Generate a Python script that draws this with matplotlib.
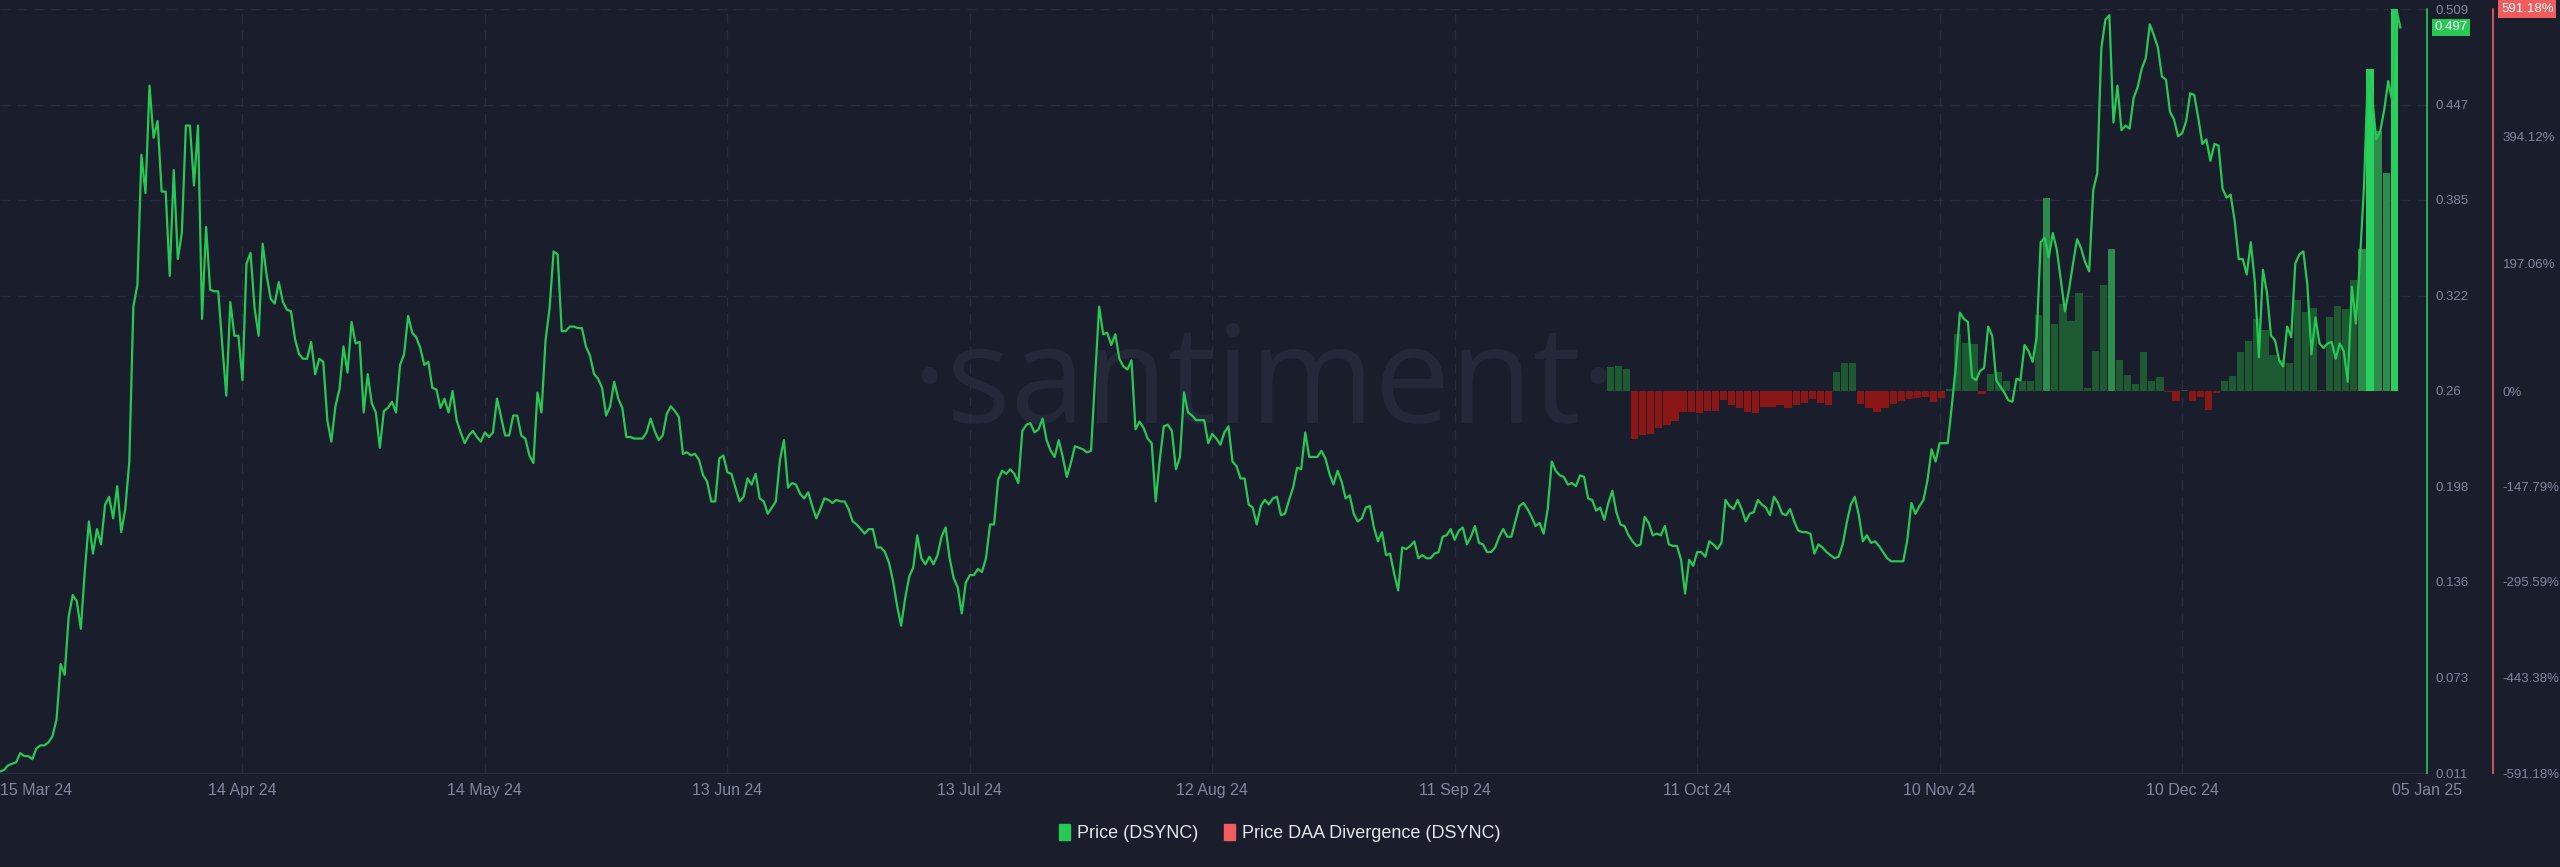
import numpy as np
import pandas as pd
import matplotlib
matplotlib.use('Agg')
import matplotlib.pyplot as plt
import matplotlib.patches as mpatches
from matplotlib.transforms import blended_transform_factory, ScaledTranslation

# 价格 (DSYNC)，12 小时一个点，从 2024-03-15 开始
price_start = '2024-03-15'
price = [
    0.012, 0.013, 0.016, 0.017, 0.018, 0.024, 0.022, 0.022, 0.020, 0.027,
    0.029, 0.029, 0.031, 0.035, 0.046, 0.082, 0.075, 0.113, 0.127, 0.123,
    0.105, 0.143, 0.175, 0.154, 0.170, 0.160, 0.186, 0.191, 0.177, 0.198,
    0.168, 0.183, 0.214, 0.315, 0.329, 0.414, 0.389, 0.459, 0.425, 0.436,
    0.390, 0.390, 0.335, 0.404, 0.346, 0.363, 0.433, 0.433, 0.394, 0.433,
    0.307, 0.367, 0.326, 0.325, 0.325, 0.290, 0.257, 0.318, 0.296, 0.296,
    0.267, 0.343, 0.350, 0.314, 0.296, 0.356, 0.335, 0.320, 0.317, 0.331,
    0.318, 0.313, 0.312, 0.294, 0.284, 0.281, 0.281, 0.292, 0.271, 0.281,
    0.279, 0.241, 0.227, 0.250, 0.261, 0.289, 0.272, 0.305, 0.291, 0.292,
    0.246, 0.271, 0.252, 0.246, 0.223, 0.247, 0.249, 0.253, 0.246, 0.277,
    0.284, 0.309, 0.298, 0.295, 0.288, 0.277, 0.279, 0.262, 0.261, 0.249,
    0.255, 0.246, 0.260, 0.241, 0.233, 0.226, 0.231, 0.234, 0.230, 0.227,
    0.233, 0.230, 0.233, 0.255, 0.243, 0.231, 0.231, 0.244, 0.244, 0.231,
    0.229, 0.218, 0.213, 0.259, 0.246, 0.293, 0.314, 0.351, 0.349, 0.299,
    0.299, 0.302, 0.302, 0.301, 0.301, 0.289, 0.283, 0.271, 0.268, 0.262,
    0.244, 0.250, 0.266, 0.255, 0.249, 0.230, 0.230, 0.229, 0.229, 0.229,
    0.233, 0.242, 0.234, 0.228, 0.231, 0.245, 0.250, 0.247, 0.243, 0.219,
    0.220, 0.218, 0.219, 0.215, 0.205, 0.201, 0.188, 0.188, 0.216, 0.218,
    0.207, 0.206, 0.197, 0.188, 0.191, 0.203, 0.199, 0.206, 0.190, 0.188,
    0.180, 0.184, 0.188, 0.215, 0.228, 0.197, 0.200, 0.199, 0.193, 0.190,
    0.194, 0.185, 0.177, 0.183, 0.190, 0.189, 0.187, 0.189, 0.188, 0.188,
    0.183, 0.175, 0.173, 0.170, 0.167, 0.170, 0.170, 0.158, 0.158, 0.155,
    0.148, 0.136, 0.120, 0.107, 0.125, 0.139, 0.145, 0.166, 0.151, 0.147,
    0.152, 0.147, 0.153, 0.165, 0.171, 0.151, 0.138, 0.132, 0.115, 0.135,
    0.140, 0.140, 0.144, 0.142, 0.151, 0.173, 0.173, 0.202, 0.208, 0.206,
    0.209, 0.206, 0.200, 0.234, 0.238, 0.239, 0.233, 0.235, 0.242, 0.228,
    0.221, 0.217, 0.228, 0.217, 0.204, 0.213, 0.224, 0.223, 0.222, 0.220,
    0.221, 0.269, 0.315, 0.297, 0.298, 0.290, 0.297, 0.281, 0.276, 0.274,
    0.280, 0.235, 0.240, 0.236, 0.229, 0.226, 0.188, 0.215, 0.237, 0.238,
    0.234, 0.209, 0.217, 0.259, 0.246, 0.244, 0.241, 0.241, 0.241, 0.226,
    0.232, 0.229, 0.225, 0.233, 0.237, 0.214, 0.211, 0.203, 0.203, 0.186,
    0.184, 0.173, 0.185, 0.189, 0.186, 0.190, 0.191, 0.179, 0.180, 0.189,
    0.197, 0.210, 0.209, 0.233, 0.217, 0.217, 0.217, 0.221, 0.216, 0.206,
    0.199, 0.208, 0.201, 0.190, 0.192, 0.180, 0.175, 0.177, 0.184, 0.185,
    0.171, 0.162, 0.168, 0.153, 0.154, 0.141, 0.130, 0.158, 0.157, 0.159,
    0.162, 0.151, 0.153, 0.151, 0.151, 0.154, 0.155, 0.165, 0.166, 0.170,
    0.163, 0.169, 0.171, 0.160, 0.165, 0.172, 0.161, 0.160, 0.155, 0.155,
    0.158, 0.165, 0.170, 0.165, 0.165, 0.175, 0.185, 0.187, 0.183, 0.178,
    0.172, 0.174, 0.167, 0.183, 0.214, 0.208, 0.205, 0.204, 0.199, 0.200,
    0.198, 0.205, 0.204, 0.190, 0.189, 0.182, 0.184, 0.176, 0.187, 0.195,
    0.181, 0.173, 0.172, 0.166, 0.162, 0.159, 0.160, 0.178, 0.174, 0.166,
    0.167, 0.166, 0.172, 0.160, 0.159, 0.159, 0.150, 0.128, 0.150, 0.146,
    0.155, 0.155, 0.152, 0.162, 0.160, 0.157, 0.161, 0.189, 0.185, 0.183,
    0.189, 0.183, 0.175, 0.180, 0.181, 0.189, 0.186, 0.184, 0.179, 0.191,
    0.187, 0.180, 0.179, 0.183, 0.175, 0.169, 0.168, 0.168, 0.167, 0.154,
    0.160, 0.158, 0.155, 0.153, 0.151, 0.152, 0.160, 0.174, 0.186, 0.191,
    0.179, 0.162, 0.166, 0.161, 0.162, 0.159, 0.155, 0.151, 0.149, 0.149,
    0.149, 0.149, 0.163, 0.187, 0.180, 0.185, 0.189, 0.202, 0.222, 0.214,
    0.226, 0.226, 0.226, 0.250, 0.276, 0.311, 0.307, 0.305, 0.269, 0.267,
    0.273, 0.275, 0.302, 0.296, 0.267, 0.263, 0.259, 0.254, 0.253, 0.268,
    0.267, 0.290, 0.286, 0.279, 0.295, 0.357, 0.360, 0.347, 0.363, 0.352,
    0.332, 0.312, 0.326, 0.343, 0.359, 0.353, 0.344, 0.338, 0.391, 0.402,
    0.483, 0.502, 0.505, 0.435, 0.459, 0.430, 0.433, 0.431, 0.451, 0.458,
    0.470, 0.477, 0.499, 0.492, 0.484, 0.465, 0.463, 0.442, 0.437, 0.426,
    0.428, 0.436, 0.454, 0.453, 0.438, 0.421, 0.424, 0.410, 0.421, 0.420,
    0.392, 0.386, 0.388, 0.371, 0.346, 0.346, 0.336, 0.357, 0.331, 0.282,
    0.339, 0.324, 0.296, 0.293, 0.280, 0.276, 0.302, 0.295, 0.343, 0.349,
    0.351, 0.329, 0.284, 0.308, 0.291, 0.288, 0.291, 0.292, 0.281, 0.291,
    0.286, 0.266, 0.328, 0.304, 0.345, 0.393, 0.469, 0.454, 0.424, 0.429,
    0.443, 0.462, 0.449, 0.509, 0.497,
]

# Price DAA Divergence (%)，每天一个，从 2024-09-30 开始
divergence_start = '2024-09-30'
divergence = [
    37, 38, 34,
    -75, -68, -66, -57, -52, -47, -32, -33, -34, -31, -31, -14, -22,
    -26, -32, -34, -24, -25, -21, -27, -21, -19, -13, -19, -22,
    30, 43, 43,
    -20, -27, -32, -26, -20, -15, -12, -11, -10, -17, -11,
    3,
    88, 74, 73, -4, 26, 29, 16, 1, 16, 16,
    118, 298, 104, 134, 109, 152, 5, 62, 164, 219,
    48, 24, 11, 61, 16, 21, -1, -16, 1, -16,
    -10, -30, -3, 16, 23, 60, 78, 112, 95, 56,
    48, 43, 141, 122, 128, 1, 114, 132, 127, 172,
    219, 498, 402, 337, 591.18,
]

x_tick_dates = ['2024-03-15', '2024-04-14', '2024-05-14', '2024-06-13', '2024-07-13', '2024-08-12',
                '2024-09-11', '2024-10-11', '2024-11-10', '2024-12-10', '2025-01-05']
x_tick_labels = ['15 Mar 24', '14 Apr 24', '14 May 24', '13 Jun 24', '13 Jul 24', '12 Aug 24',
                 '11 Sep 24', '11 Oct 24', '10 Nov 24', '10 Dec 24', '05 Jan 25']

price_min, price_max = 0.011, 0.509
price_tick_labels = ['0.011', '0.073', '0.136', '0.198', '0.26', '0.322', '0.385', '0.447', '0.509']
div_max = 591.18
div_ticks = [-591.18, -443.38, -295.59, -147.79, 0, 197.06, 394.12]
div_tick_labels = ['-591.18%', '-443.38%', '-295.59%', '-147.79%', '0%', '197.06%', '394.12%']
last_price = 0.497

# 颜色
bg = '#1a1d2c'
green = '#26c953'
red = '#f25c5c'
grid_c = '#282c3e'
tick_c = '#80869b'

plt.rcParams['font.family'] = ['Liberation Sans', 'DejaVu Sans']

fig = plt.figure(figsize=(25.6, 8.67), dpi=100, facecolor=bg)
ax_div = fig.add_axes([0, 94 / 867, 2427 / 2560, 764 / 867])
ax_div.set_facecolor(bg)
ax_price = ax_div.twinx()

# 水印
ax_div.text(0.5205, 0.458, '\u00b7santiment\u00b7', transform=ax_div.transAxes, ha='center',
            va='baseline', fontsize=97, color='#242839', family=['Open Sans', 'DejaVu Sans'],
            zorder=0)

# 背离柱
d_dates = pd.date_range(divergence_start, periods=len(divergence), freq='D') + pd.Timedelta(hours=6)
d_vals = np.array(divergence, dtype=float)
bar_colors = []
for v in d_vals:
    if v < 0:
        bar_colors.append('#8a1616')
    elif v > 450:
        bar_colors.append('#2ad05e')
    elif v > 200:
        bar_colors.append('#2b8c4c')
    else:
        bar_colors.append('#1d5a32')
ax_div.bar(d_dates, d_vals, width=0.9, color=bar_colors, zorder=2)
ax_div.set_ylim(-div_max, div_max)

# 价格线
p_dates = pd.date_range(price_start, periods=len(price), freq='12h')
ax_price.plot(p_dates, price, color=green, linewidth=1.6, zorder=3)
ax_price.set_ylim(price_min, price_max)

x0 = pd.Timestamp(price_start)
ax_div.set_xlim(x0, x0 + pd.Timedelta(days=300.3))

# 网格
ax_div.set_yticks(np.linspace(-div_max, div_max, 9), minor=True)
ax_div.yaxis.grid(True, which='minor', color=grid_c, linestyle=(0, (7, 5)), linewidth=1)
ax_div.set_xticks(pd.to_datetime(x_tick_dates))
ax_div.set_xticklabels(x_tick_labels)
ax_div.xaxis.grid(True, color=grid_c, linestyle=(0, (7, 5)), linewidth=1)
gl = ax_div.xaxis.get_gridlines()
gl[0].set_visible(False)
gl[-1].set_visible(False)
ax_div.set_axisbelow(True)

xlabels = ax_div.get_xticklabels()
for i, lbl in enumerate(xlabels):
    lbl.set_family(['Liberation Sans Narrow', 'Liberation Sans', 'DejaVu Sans'])
    if i == 0 or i == len(x_tick_labels) - 1:
        lbl.set_horizontalalignment('left')
xlabels[0].set_transform(xlabels[0].get_transform() + ScaledTranslation(0.04, 0, fig.dpi_scale_trans))
ax_div.tick_params(axis='x', length=0, pad=7, labelsize=11.5, colors=tick_c)
ax_div.tick_params(axis='y', which='minor', length=0)

# 右侧坐标轴
ax_div.yaxis.tick_right()
ax_div.set_yticks(div_ticks)
ax_div.set_yticklabels(div_tick_labels)
ax_div.tick_params(axis='y', which='major', length=0, pad=7, labelsize=9.5, colors=tick_c)
for s in ['left', 'top']:
    ax_div.spines[s].set_visible(False)
ax_div.spines['bottom'].set_color(grid_c)
ax_div.spines['right'].set_position(('outward', 47.5))
ax_div.spines['right'].set_color(red)
ax_div.spines['right'].set_linewidth(1.2)

ax_price.set_yticks(np.linspace(price_min, price_max, 9))
ax_price.set_yticklabels(price_tick_labels)
ax_price.tick_params(axis='y', length=0, pad=6, labelsize=9.5, colors=tick_c)
for s in ['left', 'top', 'bottom']:
    ax_price.spines[s].set_visible(False)
ax_price.spines['right'].set_color(green)
ax_price.spines['right'].set_linewidth(1.2)

# 最新值标签
tr_p = blended_transform_factory(ax_price.transAxes, ax_price.transData)
ax_price.text(1.003, last_price, f'{last_price:.3f}', transform=tr_p, ha='left', va='center',
              fontsize=9.5, color='white', clip_on=False,
              bbox=dict(boxstyle='square,pad=0.2', fc=green, ec='none'))
tr_d = blended_transform_factory(ax_div.transAxes, ax_div.transData)
ax_div.text(1.0305, div_max, f'{div_max:.2f}%', transform=tr_d, ha='left', va='center',
            fontsize=9.5, color='white', clip_on=False,
            bbox=dict(boxstyle='square,pad=0.2', fc=red, ec='none'))

# 图例
handles = [mpatches.Patch(color=green, label='Price (DSYNC)'),
           mpatches.Patch(color=red, label='Price DAA Divergence (DSYNC)')]
fig.legend(handles=handles, loc='center', bbox_to_anchor=(0.5, 0.039), ncol=2, frameon=False,
           handlelength=0.6, handleheight=1.0, handletextpad=0.4, columnspacing=1.4,
           fontsize=13, labelcolor='#e6e6ea')

fig.savefig('out.png', dpi=100, facecolor=bg)
